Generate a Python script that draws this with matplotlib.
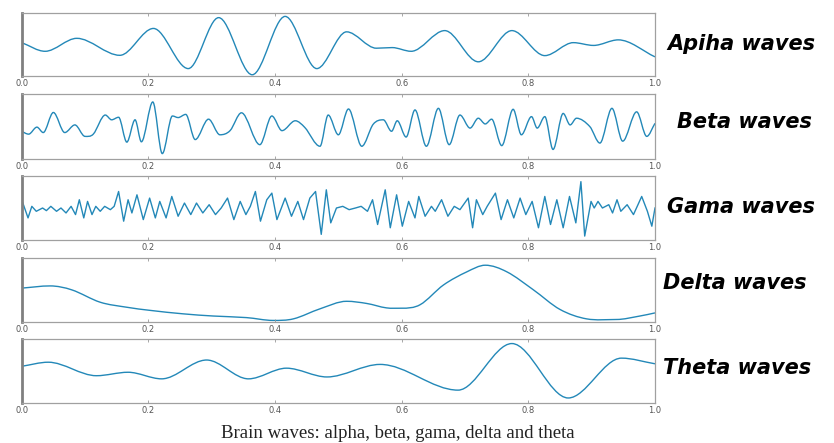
import matplotlib
matplotlib.use("Agg")
import matplotlib.pyplot as plt
from matplotlib.path import Path
from matplotlib.patches import PathPatch

# ---------------- data (y normalised to [-1, 1]) ----------------
alpha_x = [0.0, 0.037, 0.087, 0.155, 0.208, 0.263, 0.311, 0.364, 0.416, 0.466, 0.513,
           0.560, 0.585, 0.615, 0.668, 0.721, 0.774, 0.826, 0.871, 0.903, 0.942, 1.0]
alpha_y = [0.06, -0.22, 0.20, -0.35, 0.52, -0.78, 0.87, -0.98, 0.91, -0.78, 0.41,
           -0.12, -0.10, -0.22, 0.45, -0.56, 0.45, -0.36, 0.06, -0.03, 0.15, -0.40]

beta_x = [0.0, 0.011, 0.024, 0.034, 0.050, 0.068, 0.084, 0.100, 0.113, 0.132, 0.142, 0.153,
          0.166, 0.179, 0.189, 0.207, 0.222, 0.238, 0.247, 0.259, 0.274, 0.295, 0.313, 0.329,
          0.347, 0.376, 0.395, 0.411, 0.432, 0.447, 0.471, 0.484, 0.500, 0.516, 0.537, 0.555,
          0.571, 0.584, 0.593, 0.607, 0.621, 0.639, 0.658, 0.675, 0.692, 0.708, 0.721, 0.732,
          0.742, 0.758, 0.776, 0.789, 0.805, 0.814, 0.826, 0.839, 0.855, 0.866, 0.876, 0.897,
          0.913, 0.932, 0.949, 0.971, 0.987, 1.0]
beta_y = [-0.155, -0.24, -0.02, -0.19, 0.44, -0.19, 0.05, -0.31, -0.24, 0.36, 0.21, 0.29,
          -0.49, 0.21, -0.48, 0.77, -0.85, 0.33, 0.28, 0.38, -0.41, 0.23, -0.26, -0.13,
          0.43, -0.57, 0.33, -0.13, 0.18, -0.03, -0.62, 0.36, -0.26, 0.55, -0.62, 0.07,
          0.21, -0.15, 0.18, -0.33, 0.52, -0.62, 0.57, -0.57, 0.36, -0.05, 0.26, 0.08,
          0.23, -0.60, 0.54, -0.26, 0.31, -0.05, 0.31, -0.72, 0.41, 0.05, 0.26, 0.0,
          -0.52, 0.57, -0.46, 0.46, -0.31, 0.10]

gamma_x = [0.000, 0.010, 0.016, 0.023, 0.033, 0.039, 0.046, 0.055, 0.062, 0.070, 0.078, 0.085,
           0.091, 0.098, 0.104, 0.111, 0.117, 0.124, 0.131, 0.140, 0.146, 0.153, 0.161, 0.168,
           0.174, 0.182, 0.192, 0.202, 0.211, 0.218, 0.228, 0.237, 0.247, 0.257, 0.267, 0.276,
           0.286, 0.296, 0.306, 0.315, 0.325, 0.335, 0.345, 0.354, 0.361, 0.369, 0.377, 0.387,
           0.395, 0.403, 0.416, 0.426, 0.436, 0.445, 0.455, 0.464, 0.473, 0.481, 0.488, 0.497,
           0.507, 0.517, 0.527, 0.536, 0.546, 0.554, 0.562, 0.574, 0.582, 0.592, 0.601, 0.611,
           0.621, 0.627, 0.637, 0.647, 0.653, 0.663, 0.673, 0.683, 0.692, 0.705, 0.712, 0.718,
           0.728, 0.735, 0.748, 0.757, 0.767, 0.777, 0.787, 0.796, 0.806, 0.816, 0.826, 0.835,
           0.845, 0.855, 0.865, 0.875, 0.883, 0.889, 0.899, 0.904, 0.910, 0.917, 0.927, 0.933,
           0.940, 0.946, 0.956, 0.966, 0.979, 0.988, 0.995, 1.000]
gamma_y = [0.263, -0.316, 0.053, -0.105, 0.0, -0.084, 0.053, -0.105, 0.0, -0.158, 0.053, -0.21,
           0.263, -0.316, 0.21, -0.21, 0.053, -0.105, 0.053, -0.053, 0.053, 0.526, -0.42, 0.263,
           -0.158, 0.42, -0.37, 0.316, -0.316, 0.21, -0.316, 0.368, -0.263, 0.158, -0.21, 0.158,
           -0.158, 0.105, -0.21, 0.0, 0.316, -0.37, 0.21, -0.21, 0.053, 0.526, -0.42, 0.263,
           0.474, -0.37, 0.316, -0.263, 0.21, -0.37, 0.316, 0.526, -0.84, 0.58, -0.474, 0.0,
           0.053, -0.053, 0.0, 0.053, -0.105, 0.263, -0.526, 0.58, -0.63, 0.42, -0.58, 0.21,
           -0.316, 0.368, -0.263, 0.053, -0.105, 0.263, -0.263, 0.053, -0.053, 0.316, -0.63, 0.263,
           -0.21, 0.053, 0.474, -0.37, 0.263, -0.316, 0.316, -0.21, 0.21, -0.63, 0.368, -0.526,
           0.263, -0.63, 0.368, -0.474, 0.84, -0.895, 0.21, 0.0, 0.21, 0.0, 0.105, -0.158,
           0.263, -0.105, 0.105, -0.21, 0.368, -0.105, -0.58, 0.0]

delta_x = [0.0, 0.045, 0.079, 0.124, 0.166, 0.203, 0.255, 0.303, 0.355, 0.397, 0.429, 0.471,
           0.513, 0.545, 0.576, 0.600, 0.629, 0.666, 0.703, 0.732, 0.766, 0.808, 0.850, 0.892,
           0.939, 0.976, 1.0]
delta_y = [0.06, 0.13, 0.005, -0.39, -0.55, -0.65, -0.76, -0.83, -0.88, -0.97, -0.92, -0.60,
           -0.36, -0.43, -0.57, -0.58, -0.47, 0.16, 0.58, 0.79, 0.58, 0.005, -0.62, -0.92,
           -0.94, -0.83, -0.73]

theta_x = [0.0, 0.042, 0.118, 0.168, 0.221, 0.292, 0.358, 0.418, 0.482, 0.566, 0.689,
           0.774, 0.863, 0.947, 1.0]
theta_y = [0.15, 0.28, -0.15, -0.04, -0.25, 0.35, -0.25, 0.09, -0.19, 0.21, -0.61,
           0.875, -0.86, 0.41, 0.23]

wave_labels = ["Apiha waves", "Beta waves", "Gama waves", "Delta waves", "Theta waves"]
tick_values = [0.0, 0.2, 0.4, 0.6, 0.8, 1.0]
tick_labels = ["0.0", "0.2", "0.4", "0.6", "0.8", "1.0"]
caption = "Brain waves: alpha, beta, gama, delta and theta"

series = [(alpha_x, alpha_y, True), (beta_x, beta_y, True), (gamma_x, gamma_y, False),
          (delta_x, delta_y, True), (theta_x, theta_y, True)]

LINE = "#2388b8"


def smooth_path(xs, ys):
    """Cubic Hermite curve through the read points (horizontal tangents at extrema)."""
    n = len(xs)
    slopes = []
    for i in range(n):
        if i == 0:
            s = (ys[1] - ys[0]) / (xs[1] - xs[0])
        elif i == n - 1:
            s = (ys[-1] - ys[-2]) / (xs[-1] - xs[-2])
        else:
            if (ys[i] - ys[i - 1]) * (ys[i + 1] - ys[i]) <= 0:
                s = 0.0
            else:
                s = (ys[i + 1] - ys[i - 1]) / (xs[i + 1] - xs[i - 1])
        slopes.append(s)
    verts = [(xs[0], ys[0])]
    codes = [Path.MOVETO]
    for i in range(n - 1):
        h = xs[i + 1] - xs[i]
        verts += [(xs[i] + h / 3, ys[i] + slopes[i] * h / 3),
                  (xs[i + 1] - h / 3, ys[i + 1] - slopes[i + 1] * h / 3),
                  (xs[i + 1], ys[i + 1])]
        codes += [Path.CURVE4] * 3
    return Path(verts, codes)


fig = plt.figure(figsize=(8.34, 4.43), dpi=100)

panel_tops = [13, 94, 176, 258, 339]
panel_bottoms = [76, 159, 240, 322, 403]
label_x = [667, 677, 667, 663, 663]
label_y = [44, 122, 207, 283, 368]
left_px, right_px = 21.7, 655

for k, (xs, ys, smooth) in enumerate(series):
    top, bot = panel_tops[k], panel_bottoms[k]
    ax = fig.add_axes([left_px / 834, 1 - bot / 443, (right_px - left_px) / 834, (bot - top) / 443])
    if smooth:
        ax.add_patch(PathPatch(smooth_path(xs, ys), fill=False, edgecolor=LINE, lw=1.0))
    else:
        ax.plot(xs, ys, color=LINE, lw=1.0)
    ax.set_xlim(0, 1)
    ax.set_ylim(-1.02, 1.02)
    ax.set_yticks([])
    ax.set_xticks(tick_values)
    ax.set_xticklabels(tick_labels)
    ax.tick_params(axis="x", direction="in", length=2, width=0.6, color="#999999",
                   labelsize=6, labelcolor="#555555", pad=2, top=True)
    for side in ["top", "right", "bottom"]:
        ax.spines[side].set_color("#a0a0a0")
        ax.spines[side].set_linewidth(0.9)
    ax.spines["left"].set_color("#808080")
    ax.spines["left"].set_linewidth(2.0)
    fig.text(label_x[k] / 834, 1 - label_y[k] / 443, wave_labels[k], fontsize=15,
             fontweight="bold", fontstyle="italic", family="DejaVu Sans",
             ha="left", va="center", color="black")

fig.text(398 / 834, 1 - 433 / 443, caption, family="Liberation Serif", fontsize=13.5,
         ha="center", va="center", color="#222222")

fig.savefig("out.png", dpi=100)
